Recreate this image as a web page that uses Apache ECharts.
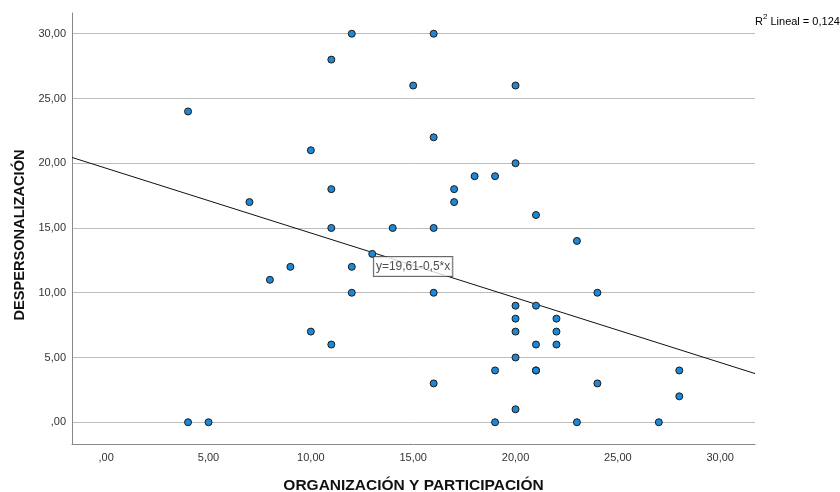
<!DOCTYPE html>
<html><head><meta charset="utf-8">
<script src="https://cdn.jsdelivr.net/npm/echarts@6/dist/echarts.min.js"></script>
<style>html,body{margin:0;padding:0;background:#fff}#c{width:840px;height:492px}</style>
</head><body><div id="c"></div>
<script>
const tickValues = [0, 5, 10, 15, 20, 25, 30];
const organizacion = [4, 4, 5, 7, 8, 9, 10, 10, 11, 11, 11, 11, 12, 12, 12, 13, 14, 15, 16, 16, 16, 16, 16, 17, 17, 18, 19, 19, 19, 20, 20, 20, 20, 20, 20, 20, 21, 21, 21, 21, 21, 22, 22, 22, 23, 23, 24, 24, 27, 28, 28];
const despersonalizacion = [24, 0, 0, 17, 11, 12, 21, 7, 28, 18, 15, 6, 30, 12, 10, 13, 15, 26, 30, 22, 15, 10, 3, 18, 17, 19, 19, 4, 0, 26, 20, 9, 8, 7, 5, 1, 16, 9, 6, 4, 4, 8, 7, 6, 14, 0, 10, 3, 0, 4, 2];
const fitIntercept = 19.61;
const fitSlope = -0.5;
const fitText = 'y=19,61-0,5*x';
const r2Text = '0,124';

const xMin = -1.67, xMax = 31.7, yMin = -1.68, yMax = 31.6;
const labelAnchor = [13.08, 12.03];

const fmt = v => v === 0 ? ',00' : v.toFixed(2).replace('.', ',');
const font = "'Liberation Sans', Arial, sans-serif";

const points = organizacion.map((x, i) => [x, despersonalizacion[i]]);
const fitLine = [[xMin, fitIntercept + fitSlope * xMin], [xMax, fitIntercept + fitSlope * xMax]];

const chart = echarts.init(document.getElementById('c'), null, {renderer: 'canvas'});
chart.setOption({
  animation: false,
  backgroundColor: '#fff',
  grid: {left: 72, right: 85, top: 13, bottom: 48, outerBoundsMode: 'none', containLabel: false},
  xAxis: {
    type: 'value', min: xMin, max: xMax,
    name: 'ORGANIZACIÓN Y PARTICIPACIÓN', nameLocation: 'middle', nameGap: 34,
    nameTextStyle: {fontFamily: font, fontSize: 15.5, fontWeight: 'bold', color: '#111'},
    axisLine: {show: true, onZero: false, lineStyle: {color: '#888', width: 1}},
    axisTick: {show: false, customValues: tickValues},
    axisLabel: {customValues: tickValues, formatter: fmt, fontFamily: font, fontSize: 11, color: '#333', margin: 8},
    splitLine: {show: false}
  },
  yAxis: {
    type: 'value', min: yMin, max: yMax,
    name: 'DESPERSONALIZACIÓN', nameLocation: 'middle', nameGap: 42,
    nameTextStyle: {fontFamily: font, fontSize: 14.6, fontWeight: 'bold', color: '#111', padding: [0, 13, 0, 0]},
    axisLine: {show: true, onZero: false, lineStyle: {color: '#888', width: 1}},
    axisTick: {show: false, customValues: tickValues},
    axisLabel: {customValues: tickValues, formatter: fmt, fontFamily: font, fontSize: 11, color: '#333', margin: 6},
    splitLine: {show: true, lineStyle: {color: '#bdbdbd', width: 1}}
  },
  graphic: [{
    type: 'text', left: 755, top: 13,
    style: {
      text: '{a|R}{s|2}{a| Lineal = ' + r2Text + '}',
      rich: {
        a: {fontFamily: font, fontSize: 11, color: '#222', verticalAlign: 'bottom', lineHeight: 14},
        s: {fontFamily: font, fontSize: 8, color: '#222', verticalAlign: 'top', lineHeight: 14, padding: [0, 0, 5, 0]}
      }
    }
  }],
  series: [
    {
      type: 'line', data: fitLine, showSymbol: false, symbol: 'none', silent: true, z: 1,
      lineStyle: {color: '#111', width: 1}
    },
    {
      type: 'scatter', data: points, symbol: 'circle', symbolSize: 7, z: 2,
      itemStyle: {color: '#1e88d8', borderColor: '#1a1a1a', borderWidth: 1, opacity: 1}
    },
    {
      type: 'scatter', data: [labelAnchor], symbolSize: 0, silent: true, z: 3,
      label: {
        show: true, position: 'right', distance: 0, formatter: fitText,
        fontFamily: font, fontSize: 12, color: '#222',
        backgroundColor: '#fff', borderColor: '#444', borderWidth: 1, padding: [4, 2, 3, 2]
      }
    }
  ]
});
</script>
</body></html>
